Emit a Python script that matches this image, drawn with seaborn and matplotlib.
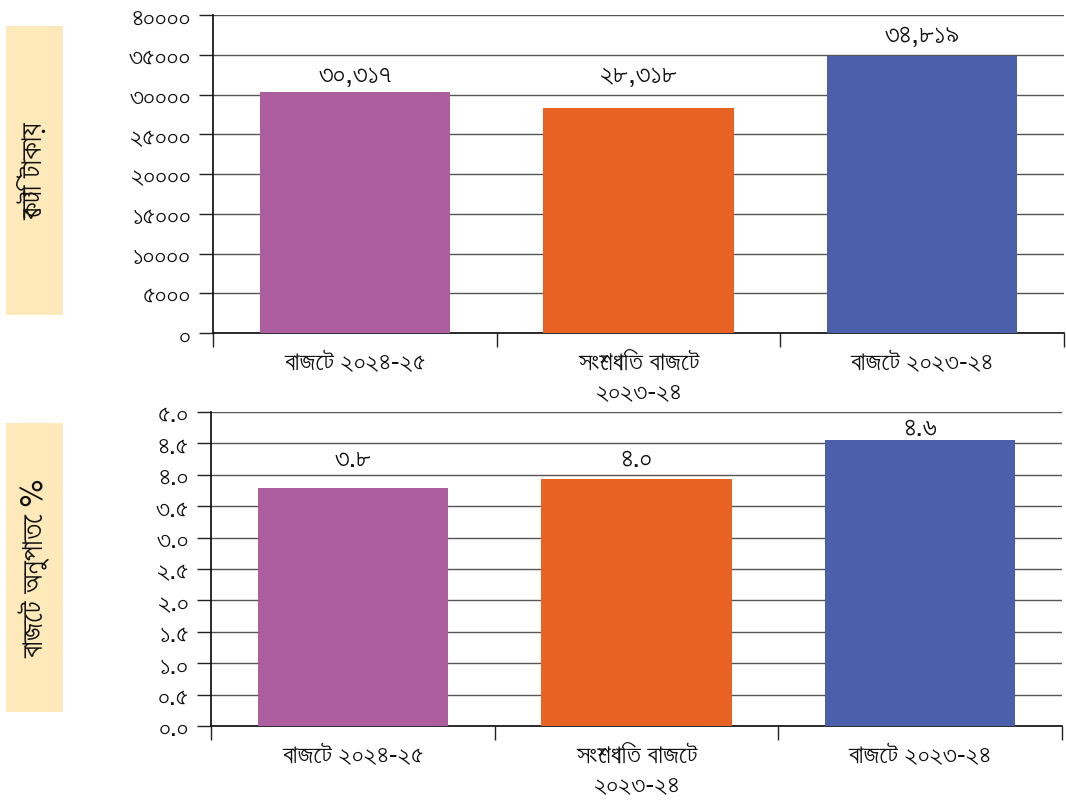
import numpy as np
import matplotlib
matplotlib.use("Agg")
import matplotlib.pyplot as plt
import seaborn as sns
from matplotlib import font_manager
from matplotlib.patches import Rectangle

# data
categories = ["বাজেট ২০২৪-২৫", "সংশোধিত বাজেট\n২০২৩-২৪", "বাজেট ২০২৩-২৪"]
crore_taka = [30317, 28318, 34819]
crore_labels = ["৩০,৩১৭", "২৮,৩১৮", "৩৪,৮১৯"]
budget_pct = [3.79, 3.93, 4.55]
pct_labels = ["৩.৮", "৪.০", "৪.৬"]
top_yticks = [0, 5000, 10000, 15000, 20000, 25000, 30000, 35000, 40000]
bottom_yticks = [0.0, 0.5, 1.0, 1.5, 2.0, 2.5, 3.0, 3.5, 4.0, 4.5, 5.0]
top_ylabel = "কোটি টাকায়"
bottom_ylabel = "বাজেট অনুপাতে %"
bar_colors = ["#ac5e9e", "#e86223", "#4b5fab"]

BN_DIGITS = str.maketrans("0123456789", "০১২৩৪৫৬৭৮৯")


def bn(s):
    return str(s).translate(BN_DIGITS)


# look for any installed font that might carry Bengali glyphs
bengali_fonts = [f.name for f in font_manager.fontManager.ttflist
                 if any(k in f.name for k in ("Bengali", "Lohit", "Kalpurush", "SolaimanLipi", "Siyam", "Mukti", "FreeSerif", "FreeSans"))]

sns.set_theme(style="white")
plt.rcParams["font.family"] = list(dict.fromkeys(bengali_fonts + ["Noto Sans", "DejaVu Sans"]))
plt.rcParams["axes.unicode_minus"] = False

fig = plt.figure(figsize=(10.66, 8.03), dpi=100)
W, H = 1066, 803


def fig_axes(x0, y0, x1, y1):
    return fig.add_axes([x0 / W, 1 - y1 / H, (x1 - x0) / W, (y1 - y0) / H])


def draw_panel(ax, values, labels, yticks, ytick_fmt, ylabel, box):
    sns.barplot(x=categories, y=values, hue=categories, palette=bar_colors,
                width=0.67, saturation=1, legend=False, ax=ax, zorder=3,
                edgecolor="none", linewidth=0)
    ax.set_xlim(-0.5, 2.5)
    ax.set_ylim(yticks[0], yticks[-1])
    ax.set_yticks(yticks)
    ax.set_yticklabels([bn(ytick_fmt(t)) for t in yticks], fontsize=19)
    ax.yaxis.grid(True, color="#555555", linewidth=1.0, zorder=0)
    ax.set_axisbelow(True)
    ax.tick_params(axis="y", length=10, width=1, color="#222222", pad=6, left=True,
                   labelcolor="#111111")
    ax.set_xticks(range(len(categories)))
    ax.set_xticklabels(categories, fontsize=19, linespacing=1.25)
    ax.set_xticks([-0.5, 0.5, 1.5, 2.5], minor=True)
    ax.tick_params(axis="x", which="major", length=0, pad=12, labelcolor="#111111")
    ax.tick_params(axis="x", which="minor", length=10, width=1, color="#222222", bottom=True)
    for side in ("top", "right"):
        ax.spines[side].set_visible(False)
    ax.spines["left"].set_color("#111111")
    ax.spines["bottom"].set_color("#111111")
    ax.set_xlabel("")
    ax.set_ylabel("")
    # value labels sit centred in the grid band just above each bar
    span = yticks[-1] - yticks[0]
    mids = (np.array(yticks[:-1]) + np.array(yticks[1:])) / 2
    for i, (v, lab) in enumerate(zip(values, labels)):
        target = v + span * 0.06
        y = mids[np.argmin(np.abs(mids - target))]
        ax.text(i, y, lab, ha="center", va="center", fontsize=20, color="#111111")
    # pale yellow label box at the far left
    x0, y0, x1, y1 = box
    fig.patches.append(Rectangle((x0 / W, 1 - y1 / H), (x1 - x0) / W, (y1 - y0) / H,
                                 transform=fig.transFigure, facecolor="#fde9b9",
                                 edgecolor="none", zorder=0))
    fig.text((x0 + x1) / 2 / W, 1 - (y0 + y1) / 2 / H, ylabel, rotation=90,
             ha="center", va="center", fontsize=22, color="#111111")


ax1 = fig_axes(213, 16, 1064, 334)
draw_panel(ax1, crore_taka, crore_labels, top_yticks, lambda t: f"{t:d}",
           top_ylabel, (6, 27, 63, 316))

ax2 = fig_axes(211, 413, 1062, 727)
draw_panel(ax2, budget_pct, pct_labels, bottom_yticks, lambda t: f"{t:.1f}",
           bottom_ylabel, (6, 424, 63, 713))

fig.savefig("out.png", dpi=100)
